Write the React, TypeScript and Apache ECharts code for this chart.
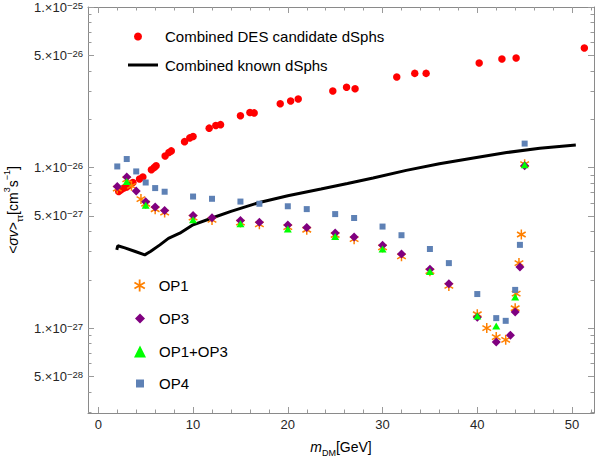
import React, { useEffect, useRef } from "react";
import * as echarts from "echarts";

// ---- data ----
const desMass = [2.15, 2.4, 2.7, 3.0, 3.3, 3.65, 4.35, 4.7, 5.6, 5.9, 6.1, 7.05, 7.45, 7.7, 9.1, 9.65, 10.0, 11.7, 12.4, 12.9, 15.0, 16.0, 16.45, 19.2, 20.3, 21.1, 24.75, 26.2, 27.1, 31.5, 33.4, 34.6, 40.2, 42.6, 44.1, 51.3];
const desSigma = [7.1e-27, 7.27e-27, 7.45e-27, 7.56e-27, 7.78e-27, 8.07e-27, 8.48e-27, 8.73e-27, 9.69e-27, 1.0e-26, 1.026e-26, 1.18e-26, 1.24e-26, 1.27e-26, 1.45e-26, 1.53e-26, 1.56e-26, 1.76e-26, 1.83e-26, 1.85e-26, 2.1e-26, 2.2e-26, 2.19e-26, 2.5e-26, 2.6e-26, 2.67e-26, 3.0e-26, 3.16e-26, 3.1e-26, 3.66e-26, 3.86e-26, 3.86e-26, 4.48e-26, 4.74e-26, 4.81e-26, 5.55e-26];

const knownMass = [1.95, 2.05, 2.8, 3.9, 4.9, 5.5, 6.5, 7.4, 8.6, 10.0, 12.0, 14.0, 17.0, 20.0, 23.5, 26.3, 29.0, 32.5, 36.0, 39.6, 43.1, 46.6, 50.4];
const knownSigma = [3.07e-27, 3.26e-27, 3.16e-27, 3.0e-27, 2.86e-27, 3.0e-27, 3.3e-27, 3.62e-27, 3.9e-27, 4.4e-27, 4.85e-27, 5.33e-27, 6.06e-27, 6.67e-27, 7.35e-27, 7.95e-27, 8.6e-27, 9.6e-27, 1.057e-26, 1.146e-26, 1.24e-26, 1.32e-26, 1.38e-26];

const op1Mass = [2, 3, 3.5, 4.5, 5, 6, 7, 10, 12, 15, 17, 20, 22, 25, 27, 30, 32, 35, 37, 40, 41, 42, 43, 44, 44.1, 44.4, 44.65, 45];
const op1Sigma = [7.4e-27, 8.45e-27, 7.7e-27, 6.36e-27, 5.95e-27, 5.5e-27, 5.24e-27, 4.88e-27, 4.72e-27, 4.54e-27, 4.43e-27, 4.26e-27, 4.1e-27, 3.8e-27, 3.58e-27, 3.18e-27, 2.8e-27, 2.26e-27, 1.83e-27, 1.22e-27, 1.0e-27, 8.79e-28, 8.45e-28, 1.33e-27, 1.64e-27, 2.54e-27, 3.83e-27, 1.05e-26];

const op3Mass = [2, 3, 4, 5, 6, 7, 10, 12, 15, 17, 20, 22, 25, 27, 30, 32, 35, 37, 40, 42, 43.5, 44, 44.5, 45];
const op3Sigma = [7.62e-27, 8.72e-27, 7.14e-27, 6.12e-27, 5.67e-27, 5.4e-27, 5.03e-27, 4.87e-27, 4.68e-27, 4.57e-27, 4.39e-27, 4.23e-27, 3.91e-27, 3.69e-27, 3.28e-27, 2.89e-27, 2.33e-27, 1.89e-27, 1.17e-27, 8.18e-28, 9.04e-28, 1.26e-27, 2.4e-27, 1.026e-26];

const op13Mass = [3, 5, 10, 15, 20, 25, 30, 35, 40, 42, 44, 45];
const op13Sigma = [8.19e-27, 5.83e-27, 4.73e-27, 4.47e-27, 4.14e-27, 3.72e-27, 3.11e-27, 2.25e-27, 1.19e-27, 1.03e-27, 1.56e-27, 1.04e-26];

const op4Mass = [2, 3, 4, 5, 6, 7, 10, 12, 15, 17, 20, 22, 25, 27, 30, 32, 35, 37, 40, 42, 43, 44, 44.5, 45];
const op4Sigma = [1.016e-26, 1.13e-26, 9.46e-27, 8.07e-27, 7.45e-27, 7.07e-27, 6.6e-27, 6.39e-27, 6.14e-27, 5.95e-27, 5.74e-27, 5.51e-27, 5.13e-27, 4.85e-27, 4.29e-27, 3.79e-27, 3.11e-27, 2.54e-27, 1.63e-27, 1.154e-27, 1.11e-27, 1.73e-27, 3.3e-27, 1.41e-26];

// ---- ticks ----
const xMajorTicks = [0, 10, 20, 30, 40, 50];
const xMinorTicks = [2, 4, 6, 8, 12, 14, 16, 18, 22, 24, 26, 28, 32, 34, 36, 38, 42, 44, 46, 48, 52];
const yLabelTicks = [5e-28, 1e-27, 5e-27, 1e-26, 5e-26, 1e-25];
const yMinorTicks = [3e-28, 4e-28, 6e-28, 7e-28, 8e-28, 9e-28, 2e-27, 3e-27, 4e-27, 6e-27, 7e-27, 8e-27, 9e-27, 2e-26, 3e-26, 4e-26, 6e-26, 7e-26, 8e-26, 9e-26];

const X_MIN = -1.09;
const X_MAX = 52.32;
const Y_MIN = 2.96e-28;
const Y_MAX = 1.0e-25;

const STAR =
  "path://M-15 -100 L15 -100 L15 100 L-15 100 Z M-94.1 -37 L-79.1 -63 L94.1 37 L79.1 63 Z M-79.1 63 L-94.1 37 L79.1 -63 L94.1 -37 Z";

const FONT = "Liberation Sans, Arial, Helvetica, sans-serif";
const FRAME = "#8a8a8a";
const TICKCOL = "#9a9a9a";
const LABEL = "#262626";

const pairs = (xs: number[], ys: number[]) => xs.map((x, i) => [x, ys[i]]);

// label for a tick given in log10 space
function yFmt(lv: number) {
  const e = Math.floor(lv + 1e-9);
  const m = Math.round(Math.pow(10, lv - e));
  return `{m|${m}.\u00d710}{e|\u2212${-e}}`;
}

export default function App() {
  const ref = useRef<HTMLDivElement>(null);
  useEffect(() => {
    if (!ref.current) return;
    const chart = echarts.init(ref.current, null, { renderer: "svg" });

    const LMIN = Math.log10(Y_MIN);
    const LMAX = Math.log10(Y_MAX);
    const yLabelLog = yLabelTicks.map((v) => Math.log10(v));
    const yMinorLog = yMinorTicks.map((v) => Math.log10(v));

    const xBase = (position: "top" | "bottom", ticks: number[], len: number, labels: boolean, line: boolean) => ({
      type: "value",
      min: X_MIN,
      max: X_MAX,
      position,
      axisLine: { show: line, onZero: false, lineStyle: { color: FRAME, width: 1 } },
      splitLine: { show: false },
      axisTick: { show: true, inside: true, length: len, customValues: ticks, lineStyle: { color: TICKCOL, width: 1 } },
      axisLabel: labels
        ? { show: true, customValues: ticks, color: LABEL, fontSize: 13, fontFamily: FONT, margin: 5 }
        : { show: false },
    });
    // tick-only axes in log10 space, aligned with the log data axis
    const yTickAxis = (position: "left" | "right", ticks: number[], len: number, labels: boolean) => ({
      type: "value",
      min: LMIN,
      max: LMAX,
      position,
      axisLine: { show: false, onZero: false },
      splitLine: { show: false },
      axisTick: { show: true, inside: true, length: len, customValues: ticks, lineStyle: { color: TICKCOL, width: 1 } },
      axisLabel: labels
        ? {
            show: true,
            customValues: ticks,
            formatter: yFmt,
            margin: 5,
            rich: {
              m: { fontSize: 13, fontFamily: FONT, color: LABEL, lineHeight: 14, verticalAlign: "middle" },
              e: { fontSize: 9.5, fontFamily: FONT, color: LABEL, lineHeight: 8, verticalAlign: "top" },
            },
          }
        : { show: false },
    });

    const xAxes: any[] = [
      {
        ...xBase("bottom", xMajorTicks, 6, true, true),
        name: "{i|m}{s|DM}{n|[GeV]}",
        nameLocation: "middle",
        nameGap: 24,
        nameTextStyle: {
          rich: {
            i: { fontSize: 14, fontFamily: FONT, fontStyle: "italic", color: "#000", lineHeight: 20, verticalAlign: "middle" },
            s: { fontSize: 9, fontFamily: FONT, color: "#000", verticalAlign: "bottom" },
            n: { fontSize: 14, fontFamily: FONT, color: "#000", lineHeight: 20, verticalAlign: "middle" },
          },
        },
      },
      xBase("bottom", xMinorTicks, 3.5, false, false),
      xBase("top", xMajorTicks, 6, false, true),
      xBase("top", xMinorTicks, 3.5, false, false),
    ];
    const yAxes: any[] = [
      {
        type: "log",
        logBase: 10,
        min: Y_MIN,
        max: Y_MAX,
        position: "left",
        axisLine: { show: true, onZero: false, lineStyle: { color: FRAME, width: 1 } },
        splitLine: { show: false },
        axisTick: { show: false },
        minorTick: { show: false },
        axisLabel: { show: false },
        name: "{n|<}{i|\u03c3v}{n|>}{s|\u03c4\u03c4}{n|[cm}{p|3}{n|s}{p|\u22121}{n|]}",
        nameLocation: "middle",
        nameRotate: 90,
        nameGap: 64,
        nameTextStyle: {
          rich: {
            n: { fontSize: 14, fontFamily: FONT, color: "#000", lineHeight: 22, verticalAlign: "middle" },
            i: { fontSize: 14, fontFamily: FONT, fontStyle: "italic", color: "#000", lineHeight: 22, verticalAlign: "middle" },
            s: { fontSize: 9, fontFamily: FONT, color: "#000", verticalAlign: "bottom" },
            p: { fontSize: 9, fontFamily: FONT, color: "#000", verticalAlign: "top" },
          },
        },
      },
      {
        type: "log",
        logBase: 10,
        min: Y_MIN,
        max: Y_MAX,
        position: "right",
        axisLine: { show: true, onZero: false, lineStyle: { color: FRAME, width: 1 } },
        splitLine: { show: false },
        axisTick: { show: false },
        minorTick: { show: false },
        axisLabel: { show: false },
      },
      yTickAxis("left", yLabelLog, 6, true),
      yTickAxis("left", yMinorLog, 3.5, false),
      yTickAxis("right", yLabelLog, 6, false),
      yTickAxis("right", yMinorLog, 3.5, false),
    ];

    const legendText = (pad: number) => ({
      fontSize: 15,
      color: "#000",
      fontFamily: FONT,
      rich: { t: { fontSize: 15, color: "#000", fontFamily: FONT, padding: [0, 0, 0, pad] } },
    });
    const fmt = (name: string) => `{t|${name}}`;

    const option: any = {
      animation: false,
      backgroundColor: "#fff",
      textStyle: { fontFamily: FONT },
      grid: { left: 88, right: 5, top: 7, bottom: 43, containLabel: false, outerBoundsMode: "none" },
      xAxis: xAxes,
      yAxis: yAxes,
      legend: [
        {
          data: [{ name: "Combined DES candidate dSphs", icon: "circle" }],
          left: 134, top: 29, padding: 0, itemWidth: 8, itemHeight: 8,
          formatter: fmt, textStyle: legendText(18),
        },
        {
          data: [{ name: "Combined known dSphs", icon: "rect" }],
          left: 128, top: 57.5, padding: 0, itemWidth: 30, itemHeight: 3,
          formatter: fmt, textStyle: legendText(2),
        },
        {
          data: [{ name: "OP1", icon: STAR }],
          left: 134, top: 278, padding: 0, itemWidth: 12, itemHeight: 12,
          formatter: fmt, textStyle: legendText(8),
        },
        {
          data: [{ name: "OP3", icon: "diamond" }],
          left: 135, top: 311, padding: 0, itemWidth: 10, itemHeight: 10,
          formatter: fmt, textStyle: legendText(9),
        },
        {
          data: [{ name: "OP1+OP3", icon: "triangle" }],
          left: 134, top: 344, padding: 0, itemWidth: 12, itemHeight: 12,
          formatter: fmt, textStyle: legendText(8),
        },
        {
          data: [{ name: "OP4", icon: "rect" }],
          left: 136, top: 376, padding: 0, itemWidth: 8, itemHeight: 8,
          formatter: fmt, textStyle: legendText(10),
        },
      ],
      series: [
        {
          name: "Combined known dSphs",
          type: "line",
          xAxisIndex: 0,
          yAxisIndex: 0,
          data: pairs(knownMass, knownSigma),
          symbol: "none",
          showSymbol: false,
          smooth: false,
          lineStyle: { color: "#000", width: 3 },
          itemStyle: { color: "#000" },
          z: 2,
        },
        {
          name: "Combined DES candidate dSphs",
          type: "scatter",
          xAxisIndex: 0,
          yAxisIndex: 0,
          data: pairs(desMass, desSigma),
          symbol: "circle",
          symbolSize: 7.5,
          itemStyle: { color: "#ff0000", opacity: 1 },
          z: 3,
        },
        {
          name: "OP1",
          type: "scatter",
          xAxisIndex: 0,
          yAxisIndex: 0,
          data: pairs(op1Mass, op1Sigma),
          symbol: STAR,
          symbolSize: 10,
          symbolKeepAspect: true,
          itemStyle: { color: "#ff8000", opacity: 1 },
          z: 4,
        },
        {
          name: "OP3",
          type: "scatter",
          xAxisIndex: 0,
          yAxisIndex: 0,
          data: pairs(op3Mass, op3Sigma),
          symbol: "diamond",
          symbolSize: 9,
          itemStyle: { color: "#800080", opacity: 1 },
          z: 5,
        },
        {
          name: "OP1+OP3",
          type: "scatter",
          xAxisIndex: 0,
          yAxisIndex: 0,
          data: pairs(op13Mass, op13Sigma),
          symbol: "triangle",
          symbolSize: [8, 7],
          itemStyle: { color: "#00ff00", opacity: 1 },
          z: 6,
        },
        {
          name: "OP4",
          type: "scatter",
          xAxisIndex: 0,
          yAxisIndex: 0,
          data: pairs(op4Mass, op4Sigma),
          symbol: "rect",
          symbolSize: 6,
          itemStyle: { color: "#5e81b5", opacity: 1 },
          z: 7,
        },
      ],
    };
    chart.setOption(option);
    return () => chart.dispose();
  }, []);

  return (
    <div
      ref={ref}
      style={{ position: "fixed", left: 0, top: 0, width: 599, height: 456, background: "#fff" }}
    />
  );
}
